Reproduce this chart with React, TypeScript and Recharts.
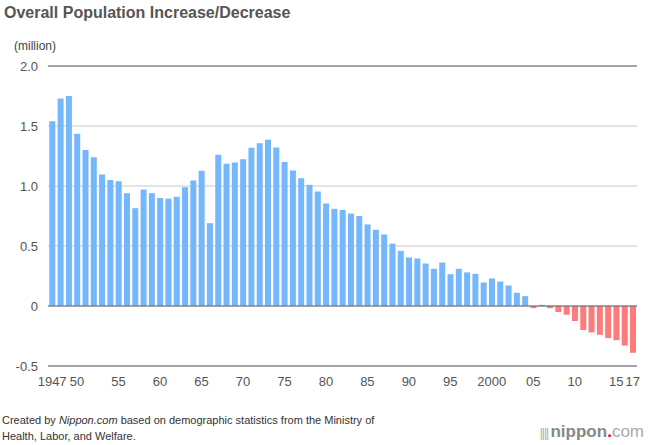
import * as React from "react";
import {
  BarChart,
  Bar,
  Cell,
  XAxis,
  YAxis,
  CartesianGrid,
  ReferenceLine
} from "recharts";

const years: number[] = [
  1947, 1948, 1949, 1950, 1951, 1952, 1953, 1954, 1955, 1956,
  1957, 1958, 1959, 1960, 1961, 1962, 1963, 1964, 1965, 1966,
  1967, 1968, 1969, 1970, 1971, 1972, 1973, 1974, 1975, 1976,
  1977, 1978, 1979, 1980, 1981, 1982, 1983, 1984, 1985, 1986,
  1987, 1988, 1989, 1990, 1991, 1992, 1993, 1994, 1995, 1996,
  1997, 1998, 1999, 2000, 2001, 2002, 2003, 2004, 2005, 2006,
  2007, 2008, 2009, 2010, 2011, 2012, 2013, 2014, 2015, 2016,
  2017
];

// change in population, million
const change: number[] = [
  1.54, 1.73, 1.75, 1.435, 1.3, 1.24, 1.096, 1.05, 1.04, 0.94,
  0.815, 0.97, 0.94, 0.9, 0.895, 0.91, 0.99, 1.046, 1.127, 0.69,
  1.26, 1.185, 1.196, 1.223, 1.318, 1.357, 1.385, 1.32, 1.2, 1.13,
  1.065, 1.01, 0.954, 0.854, 0.81, 0.8, 0.77, 0.75, 0.68, 0.635,
  0.596, 0.52, 0.46, 0.404, 0.396, 0.354, 0.31, 0.362, 0.265, 0.31,
  0.28, 0.268, 0.196, 0.23, 0.204, 0.171, 0.11, 0.082, -0.018, 0.01,
  -0.018, -0.05, -0.073, -0.125, -0.2, -0.22, -0.24, -0.268, -0.285, -0.33,
  -0.39
];

const labeledYears: number[] = [
  1947, 1950, 1955, 1960, 1965, 1970, 1975, 1980, 1985, 1990,
  1995, 2000, 2005, 2010, 2015, 2017
];

const yTicks: number[] = [-0.5, 0, 0.5, 1.0, 1.5, 2.0];

const data = years.map((y, i) => ({ year: y, value: change[i] }));

const font = '"Liberation Sans", Arial, Helvetica, sans-serif';

function yearLabel(y: number) {
  if (y === 1947 || y === 2000) return String(y);
  return String(y).slice(2);
}

function XTick(props: any) {
  const { x, y, payload } = props;
  const yr = Number(payload.value);
  if (!labeledYears.includes(yr)) return null;
  return (
    <text
      x={x}
      y={y}
      dy={12}
      textAnchor="middle"
      fontSize={13}
      fill="#555"
      fontFamily={font}
    >
      {yearLabel(yr)}
    </text>
  );
}

export default function App() {
  return (
    <div
      style={{
        position: "absolute",
        left: 0,
        top: 0,
        width: 650,
        height: 445,
        background: "#fff",
        fontFamily: font,
        overflow: "hidden"
      }}
    >
      <div
        style={{
          position: "absolute",
          left: 4,
          top: 4,
          fontSize: 16,
          fontWeight: "bold",
          color: "#555"
        }}
      >
        Overall Population Increase/Decrease
      </div>
      <div
        style={{
          position: "absolute",
          left: 14,
          top: 39,
          fontSize: 12,
          color: "#444"
        }}
      >
        (million)
      </div>
      <div style={{ position: "absolute", left: 0, top: 0 }}>
        <BarChart
          width={650}
          height={400}
          data={data}
          margin={{ top: 66, right: 13, left: 8, bottom: 14 }}
          barCategoryGap="16%"
        >
          <CartesianGrid vertical={false} stroke="#c8c8c8" />
          <XAxis
            dataKey="year"
            interval={0}
            axisLine={false}
            tickLine={false}
            tick={<XTick />}
            height={20}
          />
          <YAxis
            width={40}
            domain={[-0.5, 2.0]}
            ticks={yTicks}
            axisLine={false}
            tickLine={false}
            tickMargin={4}
            tickFormatter={(v: number) => (v === 0 ? "0" : v.toFixed(1))}
            tick={{ fontSize: 13, fill: "#555", fontFamily: font }}
          />
          <ReferenceLine y={2.0} stroke="#666" />
          <ReferenceLine y={-0.5} stroke="#666" />
          <Bar dataKey="value" isAnimationActive={false}>
            {data.map((d) => (
              <Cell key={d.year} fill={d.value < 0 ? "#ff7a7a" : "#74b7fd"} />
            ))}
          </Bar>
          <ReferenceLine y={0} stroke="#666" />
        </BarChart>
      </div>
      <div
        style={{
          position: "absolute",
          left: 2,
          top: 412,
          fontSize: 11,
          lineHeight: "16px",
          color: "#333"
        }}
      >
        Created by <i>Nippon.com</i> based on demographic statistics from the
        Ministry of
        <br />
        Health, Labor, and Welfare.
      </div>
      <div
        style={{
          position: "absolute",
          right: 6,
          top: 422,
          fontSize: 17,
          color: "#888"
        }}
      >
        <span style={{ color: "#aaa", fontSize: 12, letterSpacing: -1 }}>
          ||||{" "}
        </span>
        <span style={{ fontWeight: "bold" }}>nippon</span>
        <span style={{ color: "#e60012", fontWeight: "bold" }}>.</span>
        <span style={{ color: "#aaa" }}>com</span>
      </div>
    </div>
  );
}
